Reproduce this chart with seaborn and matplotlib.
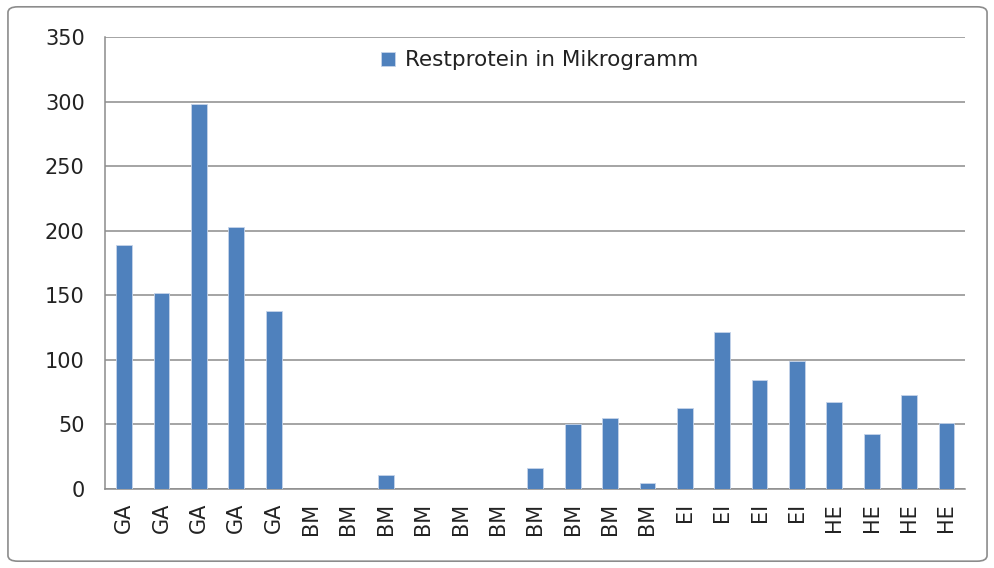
import matplotlib
matplotlib.use("Agg")
import matplotlib.pyplot as plt
from matplotlib.patches import FancyBboxPatch
from matplotlib.ticker import MultipleLocator, FixedLocator
import seaborn as sns
import pandas as pd

# data
groups = ["GA"] * 5 + ["BM"] * 10 + ["EI"] * 4 + ["HE"] * 4
values = [189, 152, 298, 203, 138,
          0, 0, 10.5, 0, 0, 0, 16, 50, 55, 4.5,
          63, 121.5, 84.5, 99.5,
          67, 42.5, 72.5, 51.5]
series_name = "Restprotein in Mikrogramm"

df = pd.DataFrame({"pos": range(len(values)), "value": values})

sns.set_style("white")
plt.rcParams["font.family"] = ["DejaVu Sans"]

fig = plt.figure(figsize=(9.95, 5.68), dpi=100)
ax = fig.add_axes([0.106, 0.139, 0.864, 0.796])

sns.barplot(data=df, x="pos", y="value", color="#4F81BD", width=0.42,
            saturation=1, label=series_name, ax=ax, zorder=3,
            edgecolor="#c6d4ea", linewidth=0.6)

ax.set_ylim(0, 350)
ax.set_xlim(-0.5, len(values) - 0.5)
ax.yaxis.set_major_locator(MultipleLocator(50))
ax.grid(axis="y", color="#8c8c8c", linewidth=1.1, zorder=0)
ax.set_axisbelow(True)

ax.set_xticks(range(len(values)))
ax.set_xticklabels(groups, rotation=90)
ax.xaxis.set_minor_locator(FixedLocator([i - 0.5 for i in range(len(values) + 1)]))
ax.tick_params(axis="x", which="major", length=0, pad=10, labelsize=15, colors="#222222")
ax.tick_params(axis="x", which="minor", length=6, width=1, color="#8c8c8c", direction="out")
ax.tick_params(axis="y", which="major", length=6, width=1, color="#8c8c8c",
               direction="out", labelsize=15, pad=9, labelcolor="#222222")
ax.set_xlabel("")
ax.set_ylabel("")

for s in ["top", "right"]:
    ax.spines[s].set_visible(False)
for s in ["left", "bottom"]:
    ax.spines[s].set_color("#8c8c8c")
    ax.spines[s].set_linewidth(1.1)

leg = ax.legend(loc="center", bbox_to_anchor=(0.505, 0.948), frameon=False,
                fontsize=15.5, handlelength=0.65, handleheight=0.65, handletextpad=0.5)
for t in leg.get_texts():
    t.set_color("#222222")

border = FancyBboxPatch((0.008, 0.012), 0.984, 0.976, transform=fig.transFigure,
                        boxstyle="round,pad=0,rounding_size=0.01",
                        facecolor="none", edgecolor="#8c8c8c", linewidth=1.2)
fig.patches.append(border)

fig.savefig("out.png", dpi=100)
